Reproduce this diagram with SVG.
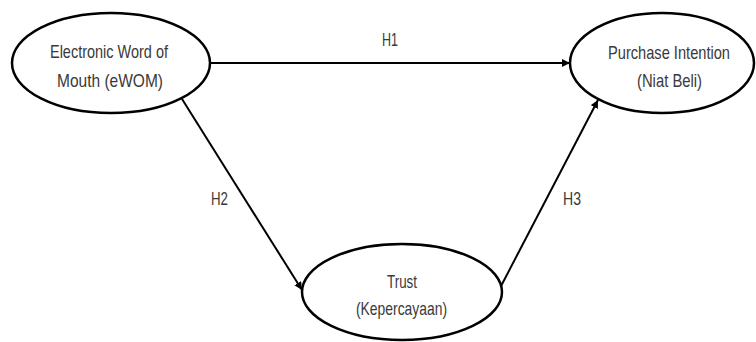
<svg xmlns="http://www.w3.org/2000/svg" width="756" height="342" viewBox="0 0 756 342">
<style>
.node{fill:#fff;stroke:#000;stroke-width:2.5}
.lbl{font-family:"Liberation Sans",Arial,sans-serif;font-size:19px;fill:#3a3a3a;text-anchor:middle}
.edge{stroke:#000;stroke-width:2;fill:none;marker-end:url(#ah)}
</style>
<defs>
<marker id="ah" viewBox="0 0 10 10" refX="10" refY="5" markerWidth="4" markerHeight="4" orient="auto" markerUnits="strokeWidth">
<path d="M0,0 L10,5 L0,10 z" fill="#000"/>
</marker>
</defs>
<rect width="756" height="342" fill="#fff"/>
<g id="connectors">
<line class="edge" x1="210" y1="63" x2="570" y2="63"/>
<line class="edge" x1="182" y1="99" x2="302" y2="290"/>
<line class="edge" x1="500" y1="288" x2="598" y2="100"/>
<text class="lbl" x="390" y="46" textLength="16" lengthAdjust="spacingAndGlyphs">H1</text>
<text class="lbl" x="219.5" y="205" textLength="17" lengthAdjust="spacingAndGlyphs">H2</text>
<text class="lbl" x="572" y="205" textLength="18" lengthAdjust="spacingAndGlyphs">H3</text>
</g>
<g id="ewom">
<ellipse class="node" cx="111" cy="63" rx="99" ry="50"/>
<text class="lbl" x="109" y="58" textLength="118" lengthAdjust="spacingAndGlyphs">Electronic Word of</text>
<text class="lbl" x="110" y="87" textLength="106" lengthAdjust="spacingAndGlyphs">Mouth (eWOM)</text>
</g>
<g id="purchase">
<ellipse class="node" cx="662" cy="63" rx="92" ry="50"/>
<text class="lbl" x="669" y="59" textLength="122" lengthAdjust="spacingAndGlyphs">Purchase Intention</text>
<text class="lbl" x="669.5" y="87" textLength="65" lengthAdjust="spacingAndGlyphs">(Niat Beli)</text>
</g>
<g id="trust">
<ellipse class="node" cx="402" cy="292" rx="100" ry="48"/>
<text class="lbl" x="402" y="288" textLength="30" lengthAdjust="spacingAndGlyphs">Trust</text>
<text class="lbl" x="401.5" y="315" textLength="91" lengthAdjust="spacingAndGlyphs">(Kepercayaan)</text>
</g>
</svg>
